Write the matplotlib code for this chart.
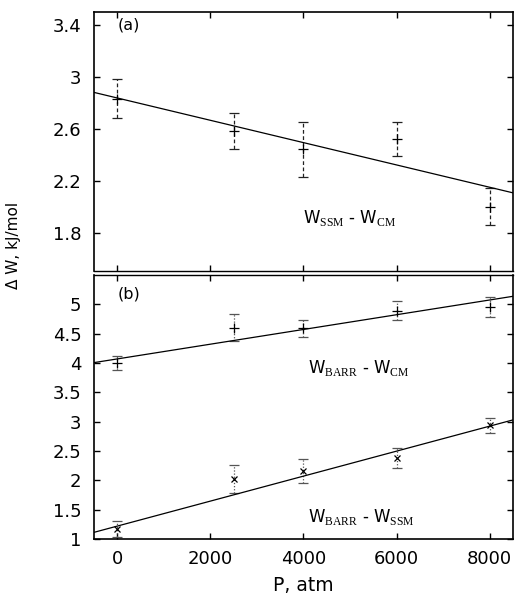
import numpy as np
import matplotlib
matplotlib.use("Agg")
import matplotlib.pyplot as plt

plt.rcParams['font.family'] = ['DejaVu Sans']
plt.rcParams['mathtext.fontset'] = 'custom'
plt.rcParams['mathtext.rm'] = 'Liberation Serif'

# Pressure points (atm)
pressure = [0, 2500, 4000, 6000, 8000]

# (a) W_SSM - W_CM
ssm_cm = [2.83, 2.58, 2.44, 2.52, 2.00]
ssm_cm_err = [0.15, 0.14, 0.21, 0.13, 0.14]
ssm_cm_fit = [-8.6e-5, 2.837]          # slope, intercept

# (b) W_BARR - W_CM
barr_cm = [4.00, 4.60, 4.59, 4.89, 4.96]
barr_cm_err = [0.12, 0.23, 0.14, 0.16, 0.17]
barr_cm_fit = [1.256e-4, 4.07]

# (b) W_BARR - W_SSM
barr_ssm = [1.17, 2.02, 2.16, 2.38, 2.94]
barr_ssm_err = [0.13, 0.24, 0.20, 0.17, 0.13]
barr_ssm_fit = [2.13e-4, 1.22]

xticks = [0, 2000, 4000, 6000, 8000]
yticks_a = [1.8, 2.2, 2.6, 3.0, 3.4]
ytick_labels_a = ['1.8', '2.2', '2.6', '3', '3.4']
yticks_b = [1, 1.5, 2, 2.5, 3, 3.5, 4, 4.5, 5]
ytick_labels_b = ['1', '1.5', '2', '2.5', '3', '3.5', '4', '4.5', '5']

fig = plt.figure(figsize=(5.16, 5.96), dpi=100)
ax_a = fig.add_axes([0.182, 0.5445, 0.812, 0.4355])
ax_b = fig.add_axes([0.182, 0.0956, 0.812, 0.4429])

xlim = (-500, 8500)
xfit = np.array(xlim, dtype=float)


def draw_series(ax, y, err, fit, marker, ms, ls, ecolor):
    eb = ax.errorbar(pressure, y, yerr=err, fmt=marker, color='black', ms=ms,
                     mew=0.9, ecolor=ecolor, elinewidth=0.9, capsize=3.5,
                     capthick=0.9)
    for col in eb[2]:
        col.set_linestyle(ls)
    ax.plot(xfit, fit[0] * xfit + fit[1], color='black', lw=0.9)


draw_series(ax_a, ssm_cm, ssm_cm_err, ssm_cm_fit, '+', 7, (0, (3, 2)), '#222222')
draw_series(ax_b, barr_cm, barr_cm_err, barr_cm_fit, '+', 7, (0, (1, 1.5)), '#555555')
draw_series(ax_b, barr_ssm, barr_ssm_err, barr_ssm_fit, 'x', 5, (0, (1, 1.5)), '#555555')

for ax in (ax_a, ax_b):
    ax.set_xlim(*xlim)
    ax.set_xticks(xticks)
    ax.tick_params(direction='in', length=4, width=1.0, top=True, right=True,
                   labelsize=13)
    ax.tick_params(axis='y', pad=9)
    ax.tick_params(axis='x', pad=8)
    for s in ax.spines.values():
        s.set_linewidth(1.2)

ax_a.spines['bottom'].set_linewidth(1.0)
ax_b.spines['top'].set_linewidth(1.0)

ax_a.set_ylim(1.5, 3.5)
ax_a.set_yticks(yticks_a)
ax_a.set_yticklabels(ytick_labels_a)
ax_a.tick_params(labelbottom=False)

ax_b.set_ylim(1.0, 5.5)
ax_b.set_yticks(yticks_b)
ax_b.set_yticklabels(ytick_labels_b)
ax_b.set_xticklabels([str(t) for t in xticks])

ax_a.text(0, 3.4, '(a)', fontsize=11.5, va='center', ha='left')
ax_b.text(0, 5.17, '(b)', fontsize=11.5, va='center', ha='left')

ax_a.text(5000, 1.91, r'W$_{\mathrm{SSM}}$ - W$_{\mathrm{CM}}$', fontsize=12,
          ha='center', va='center')
ax_b.text(5200, 3.92, r'W$_{\mathrm{BARR}}$ - W$_{\mathrm{CM}}$', fontsize=12,
          ha='center', va='center')
ax_b.text(5250, 1.38, r'W$_{\mathrm{BARR}}$ - W$_{\mathrm{SSM}}$', fontsize=12,
          ha='center', va='center')

fig.text(0.027, 0.589, 'Δ W, kJ/mol', rotation=90, fontsize=11,
         ha='center', va='center')
ax_b.set_xlabel('P, atm', fontsize=13.5, labelpad=6)

fig.savefig('out.png', dpi=100)
